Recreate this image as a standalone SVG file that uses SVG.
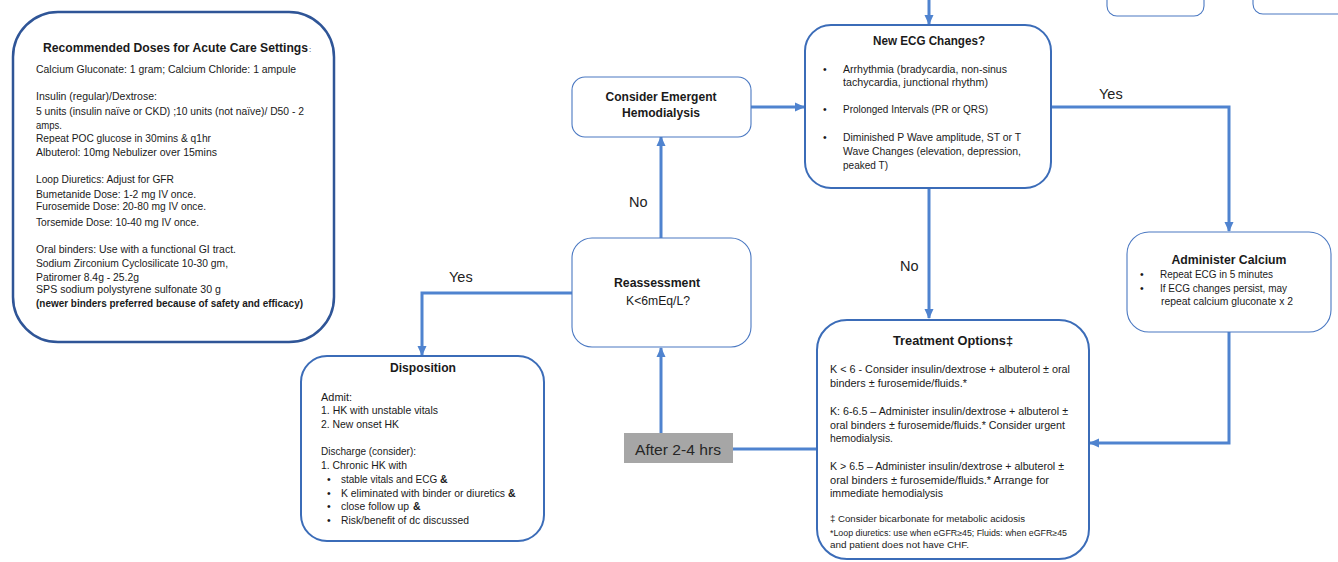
<svg xmlns="http://www.w3.org/2000/svg" width="1338" height="562" viewBox="0 0 1338 562">
<style>
text{font-family:"Liberation Sans",Arial,sans-serif;fill:#1a1a1a;}
.t{font-size:10.5px;}
.s{font-size:8.5px;}
.b{font-weight:bold;}
.h{font-size:13.5px;font-weight:bold;}
.lab{font-size:14.5px;fill:#222;}
.thick{fill:#fff;stroke:#3b6cb8;stroke-width:2;}
.thin{fill:#fff;stroke:#4a78c2;stroke-width:1.1;}
.conn{fill:none;stroke:#4f83cf;stroke-width:3;}
</style>
<defs>
<marker id="ah" markerUnits="userSpaceOnUse" markerWidth="10" markerHeight="10" viewBox="0 0 10 10" refX="9" refY="5" orient="auto">
<path d="M0,0.5 L10,5 L0,9.5 Z" fill="#4f83cf"/>
</marker>
</defs>
<rect width="1338" height="562" fill="#fff"/>

<g id="connectors">
<path class="conn" d="M929,0 V24" marker-end="url(#ah)"/>
<path class="conn" d="M751,107 H804" marker-end="url(#ah)"/>
<path class="conn" d="M1051,107 H1229 V231" marker-end="url(#ah)"/>
<path class="conn" d="M929,188 V318" marker-end="url(#ah)"/>
<path class="conn" d="M1229,332 V443 H1090" marker-end="url(#ah)"/>
<path class="conn" d="M661,238 V137" marker-end="url(#ah)"/>
<path class="conn" d="M572,293 H422 V355" marker-end="url(#ah)"/>
<path class="conn" d="M661,433 V348" marker-end="url(#ah)"/>
<path class="conn" d="M733,449 H817"/>
<text class="lab" x="1099" y="99">Yes</text>
<text class="lab" x="449" y="282">Yes</text>
<text class="lab" x="629" y="207">No</text>
<text class="lab" x="900" y="271">No</text>
</g>

<g id="partial-boxes">
<rect class="thin" x="1107" y="-30" width="97" height="46" rx="10"/>
<rect class="thin" x="1253" y="-30" width="100" height="44" rx="10"/>
</g>

<g id="doses">
<rect x="13" y="12" width="321" height="330" rx="45" fill="#fff" stroke="#2f5597" stroke-width="2.5"/>
<text class="h" x="43" y="52" textLength="265" lengthAdjust="spacingAndGlyphs">Recommended Doses for Acute Care Settings</text>
<text x="309" y="52" style="font-size:8px">:</text>
<text class="t" x="36" y="73" textLength="260" lengthAdjust="spacingAndGlyphs">Calcium Gluconate: 1 gram; Calcium Chloride:  1 ampule</text>
<text class="t" x="36" y="100" textLength="121" lengthAdjust="spacingAndGlyphs">Insulin (regular)/Dextrose:</text>
<text class="t" x="36" y="115" textLength="268" lengthAdjust="spacingAndGlyphs">5 units (insulin naïve or CKD) ;10 units (not naïve)/ D50 - 2</text>
<text class="t" x="36" y="129" textLength="26" lengthAdjust="spacingAndGlyphs">amps.</text>
<text class="t" x="36" y="142" textLength="175" lengthAdjust="spacingAndGlyphs">Repeat POC glucose in 30mins &amp; q1hr</text>
<text class="t" x="36" y="156" textLength="181" lengthAdjust="spacingAndGlyphs">Albuterol: 10mg Nebulizer over 15mins</text>
<text class="t" x="36" y="183" textLength="138" lengthAdjust="spacingAndGlyphs">Loop Diuretics: Adjust for GFR</text>
<text class="t" x="36" y="198" textLength="160" lengthAdjust="spacingAndGlyphs">Bumetanide Dose: 1-2 mg IV once.</text>
<text class="t" x="36" y="210" textLength="170" lengthAdjust="spacingAndGlyphs">Furosemide Dose: 20-80 mg IV once.</text>
<text class="t" x="36" y="226" textLength="163" lengthAdjust="spacingAndGlyphs">Torsemide Dose: 10-40 mg IV once.</text>
<text class="t" x="36" y="253" textLength="200" lengthAdjust="spacingAndGlyphs">Oral binders: Use with a functional GI tract.</text>
<text class="t" x="36" y="267" textLength="192" lengthAdjust="spacingAndGlyphs">Sodium Zirconium Cyclosilicate 10-30 gm,</text>
<text class="t" x="36" y="281" textLength="103" lengthAdjust="spacingAndGlyphs">Patiromer 8.4g - 25.2g</text>
<text class="t" x="36" y="293" textLength="185" lengthAdjust="spacingAndGlyphs">SPS sodium polystyrene sulfonate 30 g</text>
<text class="t b" x="36" y="307" textLength="267" lengthAdjust="spacingAndGlyphs">(newer binders preferred because of safety and efficacy)</text>
</g>

<g id="emergent-hd">
<rect class="thin" x="572" y="77" width="179" height="60" rx="13"/>
<text class="b" x="661" y="101" text-anchor="middle" style="font-size:12.5px" textLength="111" lengthAdjust="spacingAndGlyphs">Consider Emergent</text>
<text class="b" x="661" y="117" text-anchor="middle" style="font-size:12.5px" textLength="78" lengthAdjust="spacingAndGlyphs">Hemodialysis</text>
</g>

<g id="new-ecg">
<rect class="thick" x="805" y="25" width="246" height="163" rx="26"/>
<text class="h" x="929" y="45" text-anchor="middle" textLength="112" lengthAdjust="spacingAndGlyphs">New ECG Changes?</text>
<text class="t" x="823" y="73">•</text>
<text class="t" x="843" y="73" textLength="164" lengthAdjust="spacingAndGlyphs">Arrhythmia (bradycardia, non-sinus</text>
<text class="t" x="843" y="86" textLength="145" lengthAdjust="spacingAndGlyphs">tachycardia, junctional rhythm)</text>
<text class="t" x="823" y="113">•</text>
<text class="t" x="843" y="113" textLength="145" lengthAdjust="spacingAndGlyphs">Prolonged Intervals (PR or QRS)</text>
<text class="t" x="823" y="141">•</text>
<text class="t" x="843" y="141" textLength="178" lengthAdjust="spacingAndGlyphs">Diminished P Wave amplitude, ST or T</text>
<text class="t" x="843" y="155" textLength="178" lengthAdjust="spacingAndGlyphs">Wave Changes (elevation, depression,</text>
<text class="t" x="843" y="169" textLength="45" lengthAdjust="spacingAndGlyphs">peaked T)</text>
</g>

<g id="calcium">
<rect class="thin" x="1127" y="232" width="204" height="100" rx="22"/>
<text class="b" x="1229" y="264" text-anchor="middle" style="font-size:13px" textLength="115" lengthAdjust="spacingAndGlyphs">Administer Calcium</text>
<text class="t" x="1140" y="278">•</text>
<text class="t" x="1160" y="278" textLength="113" lengthAdjust="spacingAndGlyphs">Repeat ECG in 5 minutes</text>
<text class="t" x="1140" y="292">•</text>
<text class="t" x="1160" y="292" textLength="127" lengthAdjust="spacingAndGlyphs">If ECG changes persist, may</text>
<text class="t" x="1161" y="305" textLength="132" lengthAdjust="spacingAndGlyphs">repeat calcium gluconate x 2</text>
</g>

<g id="reassessment">
<rect class="thin" x="572" y="238" width="179" height="109" rx="20"/>
<text class="b" x="657" y="287" text-anchor="middle" style="font-size:12px" textLength="86" lengthAdjust="spacingAndGlyphs">Reassessment</text>
<text x="658" y="305" text-anchor="middle" style="font-size:12.5px" textLength="64" lengthAdjust="spacingAndGlyphs">K&lt;6mEq/L?</text>
</g>

<g id="after">
<rect x="624" y="433" width="109" height="30" fill="#a6a6a6"/>
<text x="678" y="455" text-anchor="middle" style="font-size:15px;fill:#262626" textLength="86" lengthAdjust="spacingAndGlyphs">After 2-4 hrs</text>
</g>

<g id="disposition">
<rect class="thick" x="301" y="356" width="243" height="185" rx="26"/>
<text class="h" x="423" y="372" text-anchor="middle" textLength="66" lengthAdjust="spacingAndGlyphs">Disposition</text>
<text class="t" x="321" y="401" textLength="31" lengthAdjust="spacingAndGlyphs">Admit:</text>
<text class="t" x="321" y="414" textLength="117" lengthAdjust="spacingAndGlyphs">1.  HK with unstable vitals</text>
<text class="t" x="321" y="428" textLength="78" lengthAdjust="spacingAndGlyphs">2.  New onset HK</text>
<text class="t" x="321" y="455" textLength="95" lengthAdjust="spacingAndGlyphs">Discharge (consider):</text>
<text class="t" x="321" y="469" textLength="86" lengthAdjust="spacingAndGlyphs">1. Chronic HK with</text>
<text class="t" x="327" y="483">•</text>
<text x="341" y="483" style="font-size:10px">stable vitals and ECG</text>
<text class="t b" x="440" y="483">&amp;</text>
<text class="t" x="327" y="497">•</text>
<text x="341" y="497" style="font-size:10.4px">K eliminated with binder or diuretics</text>
<text class="t b" x="508" y="497">&amp;</text>
<text class="t" x="327" y="510">•</text>
<text x="341" y="510" style="font-size:10.4px">close follow up</text>
<text class="t b" x="413" y="510">&amp;</text>
<text class="t" x="327" y="524">•</text>
<text class="t" x="341" y="524" textLength="128" lengthAdjust="spacingAndGlyphs">Risk/benefit of dc discussed</text>
</g>

<g id="treatment">
<rect class="thick" x="817" y="320" width="272" height="239" rx="30"/>
<text class="h" x="953" y="345" text-anchor="middle" style="font-size:13px" textLength="120" lengthAdjust="spacingAndGlyphs">Treatment Options‡</text>
<text class="t" x="830" y="373" textLength="240" lengthAdjust="spacingAndGlyphs">K &lt; 6 - Consider insulin/dextrose + albuterol ± oral</text>
<text class="t" x="830" y="387" textLength="137" lengthAdjust="spacingAndGlyphs">binders ± furosemide/fluids.*</text>
<text class="t" x="830" y="415" textLength="238" lengthAdjust="spacingAndGlyphs">K: 6-6.5 – Administer insulin/dextrose + albuterol ±</text>
<text class="t" x="830" y="429" textLength="235" lengthAdjust="spacingAndGlyphs">oral binders ± furosemide/fluids.* Consider urgent</text>
<text class="t" x="830" y="442" textLength="63" lengthAdjust="spacingAndGlyphs">hemodialysis.</text>
<text class="t" x="830" y="470" textLength="234" lengthAdjust="spacingAndGlyphs">K &gt; 6.5 – Administer insulin/dextrose + albuterol ±</text>
<text class="t" x="830" y="484" textLength="219" lengthAdjust="spacingAndGlyphs">oral binders ± furosemide/fluids.* Arrange for</text>
<text class="t" x="830" y="497" textLength="113" lengthAdjust="spacingAndGlyphs">immediate hemodialysis</text>
<text class="s" x="830" y="522" textLength="195" lengthAdjust="spacingAndGlyphs">‡ Consider bicarbonate for metabolic acidosis</text>
<text class="s" x="830" y="536" textLength="237" lengthAdjust="spacingAndGlyphs">*Loop diuretics: use when eGFR≥45; Fluids: when eGFR≥45</text>
<text class="s" x="830" y="548" textLength="139" lengthAdjust="spacingAndGlyphs">and patient does not have CHF.</text>
</g>
</svg>
